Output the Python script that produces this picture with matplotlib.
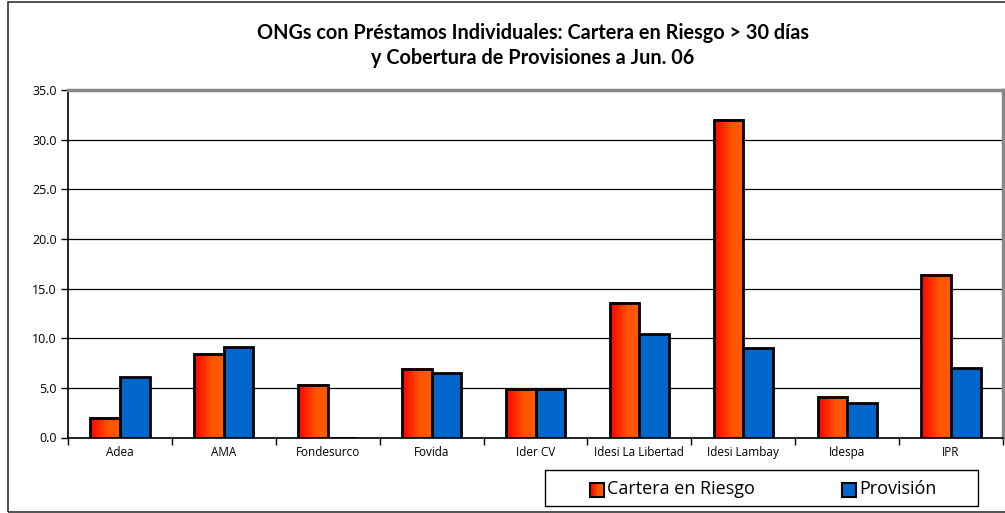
import numpy as np
import matplotlib
matplotlib.use('Agg')
import matplotlib.pyplot as plt
from matplotlib.patches import Rectangle

categories = ['Adea', 'AMA', 'Fondesurco', 'Fovida', 'Ider CV',
              'Idesi La Libertad', 'Idesi Lambay', 'Idespa', 'IPR']
cartera = [2.0, 8.4, 5.3, 6.9, 4.9, 13.5, 32.0, 4.1, 16.4]
provision = [6.1, 9.1, 0.0, 6.5, 4.9, 10.4, 9.0, 3.5, 7.0]
yticks = [0, 5, 10, 15, 20, 25, 30, 35]
series_names = ['Cartera en Riesgo', 'Provisión']

title1 = 'ONGs con Préstamos Individuales: Cartera en Riesgo > 30 días'
title2 = 'y Cobertura de Provisiones a Jun. 06'

plt.rcParams['font.family'] = ['Open Sans', 'DejaVu Sans']

red_grad = matplotlib.colors.LinearSegmentedColormap.from_list(
    'rg', [(0, '#ff0000'), (0.6, '#ff5500'), (1, '#ff5a00')])
blue = '#0066cc'

W, H = 1005, 513
fig = plt.figure(figsize=(W / 100, H / 100), dpi=100)
ax = fig.add_axes([68 / W, 75.5 / H, 935 / W, 347.5 / H])

x = np.arange(len(categories))
w = 0.285
bars_r = ax.bar(x - w / 2, cartera, w, color='none', edgecolor='black', linewidth=2, zorder=4)
bars_b = ax.bar(x + w / 2, provision, w, color=blue, edgecolor='black', linewidth=2, zorder=4)

grad = np.linspace(0, 1, 64).reshape(1, -1)
for b in bars_r:
    x0, y0 = b.get_x(), b.get_y()
    ax.imshow(grad, extent=[x0, x0 + b.get_width(), y0, y0 + b.get_height()],
              cmap=red_grad, aspect='auto', zorder=3, interpolation='bilinear')

ax.set_xlim(-0.5, len(categories) - 0.5)
ax.set_ylim(0, 35)
ax.set_yticks(yticks)
ax.set_yticklabels(['%.1f' % v for v in yticks], fontsize=9)
ax.set_xticks(x)
ax.set_xticklabels(categories, fontsize=8.5)
ax.tick_params(axis='x', length=0, pad=6)
ax.set_xticks(np.arange(len(categories) + 1) - 0.5, minor=True)
ax.tick_params(axis='x', which='minor', length=5, width=1)
ax.tick_params(axis='y', length=5, width=1, pad=3)
ax.yaxis.grid(True, color='black', linewidth=0.9, zorder=0)
ax.set_axisbelow(True)
for s in ['top', 'right']:
    ax.spines[s].set_color('#888888')
    ax.spines[s].set_linewidth(2.5)
for s in ['left', 'bottom']:
    ax.spines[s].set_color('black')
    ax.spines[s].set_linewidth(1.2)

fig.text(533 / W, 1 - 33 / H, title1, ha='center', va='center', fontsize=14.3,
         fontweight='bold', family=['Lato', 'DejaVu Sans'])
fig.text(533 / W, 1 - 58 / H, title2, ha='center', va='center', fontsize=14.3,
         fontweight='bold', family=['Lato', 'DejaVu Sans'])

# outer frame of the chart
fig.patches.append(Rectangle((8 / W, 1 / H), 1.1, 510 / H, transform=fig.transFigure,
                             fill=False, edgecolor='#333333', linewidth=1.2))

# legend box drawn by hand
fig.patches.append(Rectangle((545 / W, 1 - 506 / H), 433 / W, 36 / H, transform=fig.transFigure,
                             facecolor='white', edgecolor='black', linewidth=1.0))
sq = 14
for lx, name, kind in [(590, series_names[0], 'red'), (842, series_names[1], 'blue')]:
    y0 = 1 - 497 / H
    if kind == 'red':
        n = 10
        for i in range(n):
            fig.patches.append(Rectangle(((lx + sq * i / n) / W, y0), (sq / n + 0.4) / W, sq / H,
                                         transform=fig.transFigure, facecolor=red_grad(i / (n - 1)),
                                         edgecolor='none'))
    else:
        fig.patches.append(Rectangle((lx / W, y0), sq / W, sq / H, transform=fig.transFigure,
                                     facecolor=blue, edgecolor='none'))
    fig.patches.append(Rectangle((lx / W, y0), sq / W, sq / H, transform=fig.transFigure,
                                 fill=False, edgecolor='black', linewidth=1.5))
    fig.text((lx + sq + 3) / W, 1 - 489 / H, name, ha='left', va='center', fontsize=13)

fig.savefig('out.png', dpi=100)
